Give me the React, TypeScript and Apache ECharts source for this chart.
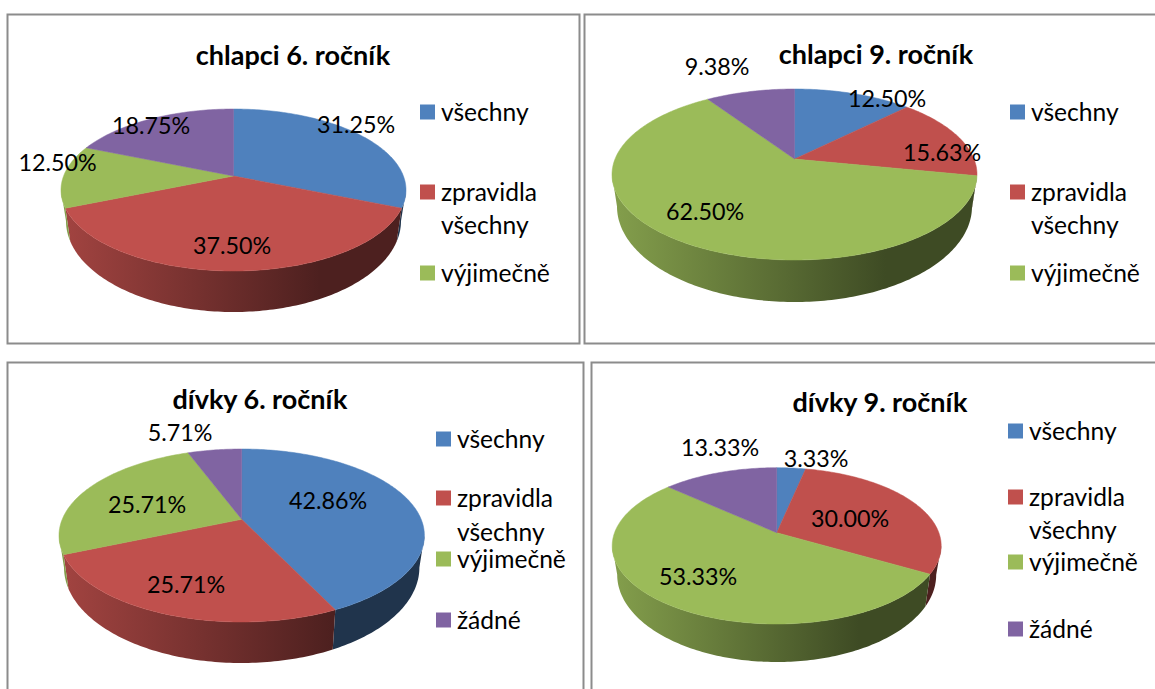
import React, { useEffect, useRef } from "react";
import * as echarts from "echarts";

const chlapci6Values = [31.25, 37.5, 12.5, 18.75];
const chlapci9Values = [12.5, 15.63, 62.5, 9.38];
const divky6Values = [42.86, 25.71, 25.71, 5.71];
const divky9Values = [3.33, 30.0, 53.33, 13.33];
const categories = ["všechny", "zpravidla\nvšechny", "výjimečně", "žádné"];
const titles = ["chlapci 6. ročník", "chlapci 9. ročník", "dívky 6. ročník", "dívky 9. ročník"];
const valuesByPanel = [chlapci6Values, chlapci9Values, divky6Values, divky9Values];
const legendCounts = [3, 3, 4, 4];

const COLORS = ["#4f81bd", "#c0504d", "#9bbb59", "#8064a2"];
const FONT = "Lato";
const TEXT = "#000000";

// Layout only: frame, pie projection, title, label and legend placement for each panel.
const LAYOUT = [
  {
    frame: [7.5, 14.5, 572, 329],
    pie: { cx: 233.5, rx: 172.5, top: 109, apex: 176, bottom: 271, depthFront: 41, depthSide: 31, shrink: 5 },
    title: [293, 54],
    labels: [[356, 124], [232, 245], [57.5, 162], [151, 125]],
    legendX: 420,
    legendY: [112, 192, 273],
    secondLine: 225,
  },
  {
    frame: [584.5, 14.5, 600, 329],
    pie: { cx: 794.5, rx: 182.5, top: 89, apex: 159, bottom: 260, depthFront: 42, depthSide: 32, shrink: 5 },
    title: [876, 53],
    labels: [[887, 98], [942, 152], [705, 211], [717, 66]],
    legendX: 1010,
    legendY: [112, 192, 273],
    secondLine: 225,
  },
  {
    frame: [7.5, 362.5, 576, 360],
    pie: { cx: 241.7, rx: 182.7, top: 449, apex: 519.3, bottom: 622, depthFront: 41, depthSide: 32, shrink: 5 },
    title: [260, 398],
    labels: [[328, 500], [186, 584], [147, 504], [180, 432]],
    legendX: 436,
    legendY: [439, 498, 559, 620],
    secondLine: 532,
  },
  {
    frame: [591.5, 362.5, 600, 360],
    pie: { cx: 776.7, rx: 164.5, top: 467.7, apex: 532.7, bottom: 624, depthFront: 38, depthSide: 29, shrink: 5 },
    title: [880, 401],
    labels: [[816, 458], [850, 518], [698, 576], [720, 447]],
    legendX: 1008,
    legendY: [431, 497, 562, 629],
    secondLine: 530,
  },
];

function shade(hex: string, f: number) {
  const n = parseInt(hex.slice(1), 16);
  const c = [(n >> 16) & 255, (n >> 8) & 255, n & 255].map((v) => Math.round(v * f));
  return `rgb(${c[0]},${c[1]},${c[2]})`;
}

function projector(p: any) {
  const up = p.apex - p.top;
  const down = p.bottom - p.apex;
  const k = (down - up) / (down + up);
  const h = up * (1 + k);
  const a = p.rx * Math.sqrt(1 - k * k);
  const mid = (p.top + p.bottom) / 2;
  const m = (p.depthFront - p.depthSide) / (p.bottom - mid);
  const scale = (p.rx - p.shrink) / p.rx;
  const topPoint = (deg: number) => {
    const t = (deg * Math.PI) / 180;
    const u = Math.sin(t);
    const v = Math.cos(t);
    const w = 1 + k * v;
    return [p.cx + (a * u) / w, p.apex - (h * v) / w];
  };
  const basePoint = (pt: number[]) => [
    p.cx + (pt[0] - p.cx) * scale,
    pt[1] + p.depthSide + m * (pt[1] - mid),
  ];
  // The wall shows only on the front of the rim, between the two widest points.
  const limit = (Math.acos(-k) * 180) / Math.PI;
  return { topPoint, basePoint, limit };
}

function sliceRange(values: number[], i: number) {
  const total = values.reduce((s, v) => s + v, 0);
  const before = values.slice(0, i).reduce((s, v) => s + v, 0);
  return [(before / total) * 360, ((before + values[i]) / total) * 360];
}

function samples(from: number, to: number) {
  const out: number[] = [];
  const n = Math.max(2, Math.ceil(to - from));
  for (let j = 0; j <= n; j++) out.push(from + ((to - from) * j) / n);
  return out;
}

function wallRenderer(panel: number) {
  const values = valuesByPanel[panel];
  const p = LAYOUT[panel].pie;
  const proj = projector(p);
  return (params: any) => {
    const i = params.dataIndex;
    const [s, e] = sliceRange(values, i);
    const from = Math.max(s, proj.limit);
    const to = Math.min(e, 360 - proj.limit);
    if (to <= from) return { type: "group", children: [] };
    const upper = samples(from, to).map(proj.topPoint);
    const lower = upper.map(proj.basePoint).reverse();
    const fill = {
      type: "linear",
      global: true,
      x: p.cx - p.rx,
      y: 0,
      x2: p.cx + p.rx,
      y2: 0,
      colorStops: [
        { offset: 0, color: shade(COLORS[i], 0.85) },
        { offset: 0.75, color: shade(COLORS[i], 0.4) },
        { offset: 1, color: shade(COLORS[i], 0.4) },
      ],
    };
    return { type: "polygon", shape: { points: [...upper, ...lower] }, style: { fill } };
  };
}

function topRenderer(panel: number) {
  const values = valuesByPanel[panel];
  const p = LAYOUT[panel].pie;
  const proj = projector(p);
  return (params: any) => {
    const i = params.dataIndex;
    const [s, e] = sliceRange(values, i);
    const points = [[p.cx, p.apex], ...samples(s, e).map(proj.topPoint)];
    return {
      type: "polygon",
      shape: { points },
      style: { fill: COLORS[i], stroke: COLORS[i], lineWidth: 0.5 },
    };
  };
}

function buildOption() {
  const series: any[] = [];
  const elements: any[] = [];
  LAYOUT.forEach((l, panel) => {
    const values = valuesByPanel[panel];
    const data = values.map((v, i) => ({ name: categories[i].replace("\n", " "), value: v }));
    series.push({
      type: "custom",
      coordinateSystem: "none",
      name: titles[panel] + " (stěna)",
      silent: true,
      z: 2,
      renderItem: wallRenderer(panel),
      data,
    });
    series.push({
      type: "custom",
      coordinateSystem: "none",
      name: titles[panel],
      silent: true,
      z: 3,
      renderItem: topRenderer(panel),
      data,
    });
    elements.push({
      type: "rect",
      z: 1,
      silent: true,
      shape: { x: l.frame[0], y: l.frame[1], width: l.frame[2], height: l.frame[3] },
      style: { fill: "none", stroke: "#8c8c8c", lineWidth: 2 },
    });
    values.forEach((v, i) => {
      elements.push({
        type: "text",
        z: 20,
        silent: true,
        x: l.labels[i][0],
        y: l.labels[i][1],
        style: {
          text: v.toFixed(2) + "%",
          fill: TEXT,
          font: `23.3px ${FONT}`,
          align: "center",
          verticalAlign: "middle",
        },
      });
    });
    for (let i = 0; i < legendCounts[panel]; i++) {
      const y = l.legendY[i];
      elements.push({
        type: "rect",
        z: 20,
        silent: true,
        shape: { x: l.legendX, y: y - 7.5, width: 15, height: 15 },
        style: { fill: COLORS[i] },
      });
      const lines = categories[i].split("\n");
      lines.forEach((line, j) => {
        elements.push({
          type: "text",
          z: 20,
          silent: true,
          x: l.legendX + 21,
          y: (j === 0 ? y : l.secondLine) - 0.5,
          style: {
            text: line,
            fill: TEXT,
            font: `24.6px ${FONT}`,
            align: "left",
            verticalAlign: "middle",
          },
        });
      });
    }
  });
  return {
    animation: false,
    backgroundColor: "#ffffff",
    title: LAYOUT.map((l, panel) => ({
      text: titles[panel],
      left: l.title[0],
      top: l.title[1],
      textAlign: "center",
      textVerticalAlign: "middle",
      padding: 0,
      textStyle: { fontFamily: FONT, fontWeight: "bold", fontSize: 27, color: "#000000" },
    })),
    graphic: { elements },
    series,
  };
}

export default function App() {
  const ref = useRef<HTMLDivElement>(null);
  useEffect(() => {
    document.body.style.margin = "0";
    const chart = echarts.init(ref.current!, undefined, { renderer: "svg" });
    chart.setOption(buildOption() as any);
    return () => chart.dispose();
  }, []);
  return <div ref={ref} style={{ width: 1155, height: 689, overflow: "hidden" }} />;
}
